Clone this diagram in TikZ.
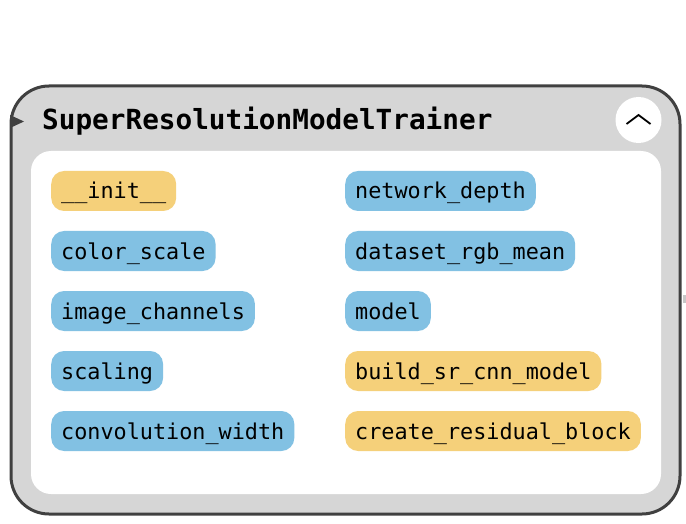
\documentclass[tikz,border=0pt]{standalone}
\usepackage{fontspec}
\newfontfamily\codefont{DejaVu Sans Mono}
\definecolor{framegray}{HTML}{404040}
\definecolor{panelgray}{HTML}{D6D6D6}
\definecolor{methodyellow}{HTML}{F5D07A}
\definecolor{attrblue}{HTML}{82C1E3}
\tikzset{
  pill/.style={anchor=west, rounded corners=13pt, minimum height=40pt, inner xsep=10pt, inner ysep=0pt,
    text height=18pt, text depth=2pt, font=\codefont\fontsize{21.8}{24}\selectfont, text=black},
  methodpill/.style={pill, fill=methodyellow},
  attrpill/.style={pill, fill=attrblue},
}
\begin{document}
\begin{tikzpicture}[x=1pt,y=-1pt]
\useasboundingbox (0,0) rectangle (686,524);
% outer frame
\draw[framegray, line width=3pt, fill=panelgray, rounded corners=38pt] (11,86) rectangle (680,514);
% tiny edge tab
\fill[black!22] (683,295) rectangle (686,303);
% collapse marker
\fill[framegray] (10,115) -- (24,121.5) -- (10,128) -- cycle;
% title
\node[anchor=base west, inner sep=0pt, font=\codefont\bfseries\fontsize{27.7}{30}\selectfont] (title) at (42,130) {SuperResolutionModelTrainer};
% toggle button
\node[circle, fill=white, minimum size=46pt, inner sep=0pt] (toggle) at (638.5,120) {};
\draw[black, line width=1.8pt] ([xshift=-12pt,yshift=-4pt]toggle.center) -- ([yshift=5pt]toggle.center) -- ([xshift=12pt,yshift=-4pt]toggle.center);
% inner panel
\fill[white, rounded corners=20pt] (31,151) rectangle (661,494);
% left column
\node[methodpill] (init) at (51,191) {\_\_init\_\_};
\node[attrpill] (colorscale) at (51,251) {color\_scale};
\node[attrpill] (imagechannels) at (51,311) {image\_channels};
\node[attrpill] (scaling) at (51,371) {scaling};
\node[attrpill] (convwidth) at (51,431) {convolution\_width};
% right column
\node[attrpill] (netdepth) at (345,191) {network\_depth};
\node[attrpill] (rgbmean) at (345,251) {dataset\_rgb\_mean};
\node[attrpill] (model) at (345,311) {model};
\node[methodpill] (buildsr) at (345,371) {build\_sr\_cnn\_model};
\node[methodpill] (residual) at (345,431) {create\_residual\_block};
\end{tikzpicture}
\end{document}
